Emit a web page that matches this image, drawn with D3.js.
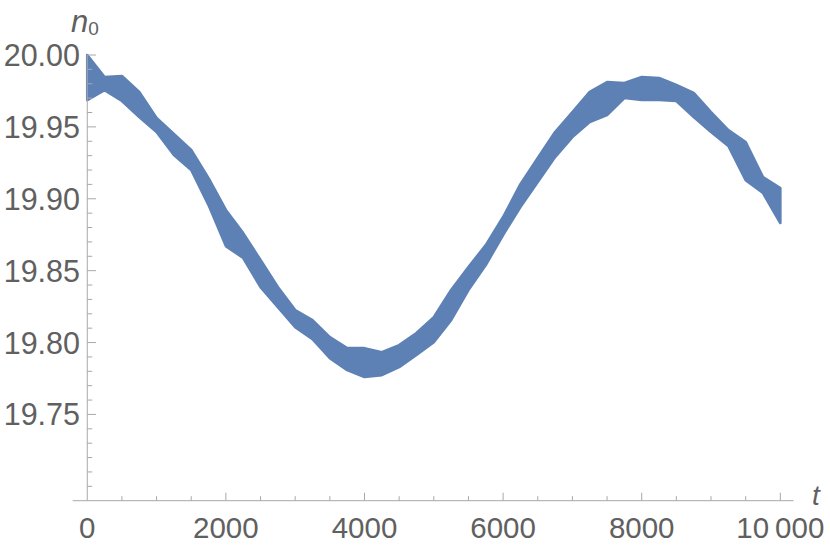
<!DOCTYPE html>
<html>
<head>
<meta charset="utf-8">
<script src="https://cdn.jsdelivr.net/npm/d3@7"></script>
<style>
  html, body { margin: 0; padding: 0; background: #fff; }
  svg { display: block; }
</style>
</head>
<body>
<svg id="chart" width="830" height="549"></svg>
<script>
// ---- data ----
const tValues = [0,250,500,750,1000,1250,1500,1750,2000,2250,2500,2750,3000,3250,3500,3750,4000,4250,4500,4750,5000,
                 5250,5500,5750,6000,6250,6500,6750,7000,7250,7500,7750,8000,8250,8500,8750,9000,9250,9500,9750,10000];
// upper edge of the noisy band of n0
const n0Upper = [20.0000,19.9847,19.9854,19.9743,19.9562,19.9450,19.9339,19.9144,19.8922,19.8761,19.8574,19.8386,19.8226,19.8156,19.8038,19.7961,19.7961,19.7933,19.7982,19.8066,19.8177,
                 19.8365,19.8525,19.8678,19.8873,19.9102,19.9283,19.9464,19.9603,19.9743,19.9812,19.9805,19.9847,19.9840,19.9791,19.9736,19.9603,19.9478,19.9395,19.9151,19.9075];
// lower edge of the noisy band of n0
const n0Lower = [19.9687,19.9756,19.9680,19.9569,19.9464,19.9304,19.9200,19.8956,19.8671,19.8588,19.8386,19.8247,19.8107,19.8024,19.7892,19.7808,19.7760,19.7773,19.7829,19.7913,19.8003,
                 19.8156,19.8365,19.8539,19.8748,19.8942,19.9116,19.9290,19.9429,19.9534,19.9583,19.9701,19.9687,19.9687,19.9680,19.9569,19.9464,19.9367,19.9130,19.9040,19.8831];

const xMajorTicks = [0,2000,4000,6000,8000,10000];
const xTickLabels = ["0","2000","4000","6000","8000","10\u2009000"];
const yMajorTicks = [19.75,19.80,19.85,19.90,19.95,20.00];
const yTickLabels = ["19.75","19.80","19.85","19.90","19.95","20.00"];

// ---- drawing ----
const svg = d3.select("#chart");
const x = d3.scaleLinear().domain([-210, 10190]).range([72.7, 793.5]);
const y = d3.scaleLinear().domain([19.69, 20.0]).range([500.7, 55]);

const axisColor = "#a8a8a8";
const labelColor = "#606060";
const fillColor = "#5e81b5";
const font = "Liberation Sans, Arial, sans-serif";

const band = tValues.map((t, i) => ({t, hi: n0Upper[i], lo: n0Lower[i]}));
const area = d3.area().x(d => x(d.t)).y0(d => y(d.lo)).y1(d => y(d.hi));
svg.append("path").datum(band).attr("d", area)
  .attr("fill", fillColor).attr("stroke", fillColor).attr("stroke-width", 2.6)
  .attr("stroke-linejoin", "round");

// axes lines
const x0 = x(0), yBase = y(19.69);
svg.append("line").attr("x1", x.range()[0]).attr("x2", x.range()[1]).attr("y1", yBase).attr("y2", yBase)
  .attr("stroke", axisColor).attr("stroke-width", 1);
svg.append("line").attr("x1", x0).attr("x2", x0).attr("y1", yBase).attr("y2", y(20.0))
  .attr("stroke", axisColor).attr("stroke-width", 1);

// x ticks
const xMinor = d3.range(500, 10001, 500).filter(v => !xMajorTicks.includes(v));
svg.append("g").selectAll("line").data(xMinor).join("line")
  .attr("x1", d => x(d)).attr("x2", d => x(d)).attr("y1", yBase).attr("y2", yBase - 4.5)
  .attr("stroke", axisColor).attr("stroke-width", 1);
svg.append("g").selectAll("line").data(xMajorTicks.filter(v => v > 0)).join("line")
  .attr("x1", d => x(d)).attr("x2", d => x(d)).attr("y1", yBase).attr("y2", yBase - 8)
  .attr("stroke", axisColor).attr("stroke-width", 1);
svg.append("g").selectAll("text").data(xMajorTicks).join("text")
  .attr("x", d => x(d)).attr("y", 537.5)
  .attr("text-anchor", "middle")
  .attr("font-family", font).attr("font-size", 29.5)
  .attr("fill", labelColor)
  .text((d, i) => xTickLabels[i]);

// y ticks
const yMinor = d3.range(19.70, 20.0001, 0.01).map(v => +v.toFixed(2))
  .filter(v => !yMajorTicks.some(m => Math.abs(m - v) < 1e-6));
svg.append("g").selectAll("line").data(yMinor).join("line")
  .attr("x1", x0).attr("x2", x0 + 5).attr("y1", d => y(d)).attr("y2", d => y(d))
  .attr("stroke", axisColor).attr("stroke-width", 1);
svg.append("g").selectAll("line").data(yMajorTicks).join("line")
  .attr("x1", x0).attr("x2", x0 + 8.7).attr("y1", d => y(d)).attr("y2", d => y(d))
  .attr("stroke", axisColor).attr("stroke-width", 1);
svg.append("g").selectAll("text").data(yMajorTicks).join("text")
  .attr("x", 80).attr("y", d => y(d) + 11)
  .attr("text-anchor", "end")
  .attr("font-family", font).attr("font-size", 30.5)
  .attr("fill", labelColor)
  .text((d, i) => yTickLabels[i]);

// axis labels
const yl = svg.append("text").attr("x", 71).attr("y", 32)
  .attr("font-family", font).attr("font-size", 31)
  .attr("font-style", "italic").attr("fill", labelColor);
yl.append("tspan").text("n");
yl.append("tspan").attr("font-style", "normal").attr("font-size", 19).attr("dy", 3).text("0");

svg.append("text").attr("x", 812).attr("y", 505)
  .attr("font-family", font).attr("font-size", 28)
  .attr("font-style", "italic").attr("fill", labelColor).text("t");
</script>
</body>
</html>
